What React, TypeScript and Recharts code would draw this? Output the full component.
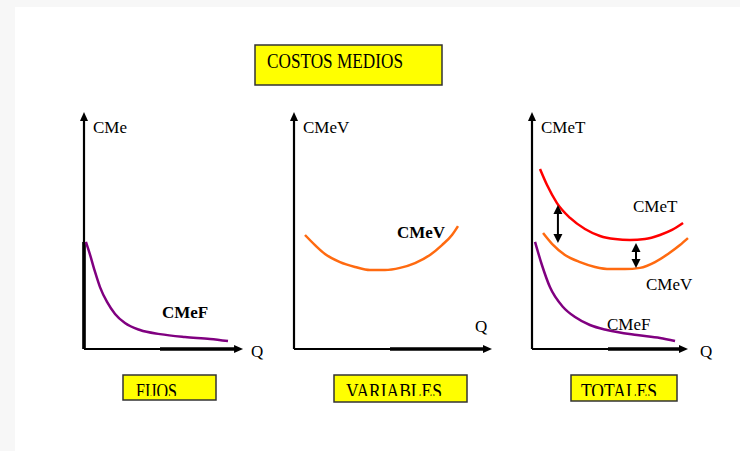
import React from 'react';
import { LineChart, Line, XAxis, YAxis, ReferenceLine } from 'recharts';

const FONT = '"Liberation Serif", "Times New Roman", serif';

const PURPLE = '#800080';
const ORANGE = '#ff6a10';
const RED = '#ff0000';

// Costo medio fijo (panel FIJOS)
const cmefFijos = [
  { q: 0.12, c: 4.46 },
  { q: 0.38, c: 3.92 },
  { q: 0.69, c: 3.21 },
  { q: 1.0, c: 2.58 },
  { q: 1.44, c: 1.96 },
  { q: 1.94, c: 1.46 },
  { q: 2.56, c: 1.08 },
  { q: 3.5, c: 0.79 },
  { q: 4.75, c: 0.62 },
  { q: 6.31, c: 0.5 },
  { q: 7.88, c: 0.42 },
  { q: 9.0, c: 0.33 },
];

// Costo medio variable (panel VARIABLES)
const cmevVariables = [
  { q: 0.55, c: 4.75 },
  { q: 1.05, c: 4.33 },
  { q: 1.55, c: 3.96 },
  { q: 2.3, c: 3.62 },
  { q: 3.05, c: 3.42 },
  { q: 3.8, c: 3.29 },
  { q: 4.55, c: 3.29 },
  { q: 5.3, c: 3.38 },
  { q: 6.05, c: 3.58 },
  { q: 6.8, c: 3.92 },
  { q: 7.4, c: 4.33 },
  { q: 7.9, c: 4.75 },
  { q: 8.2, c: 5.12 },
];

// Panel TOTALES
const cmetTotales = [
  { q: 0.5, c: 7.5 },
  { q: 0.94, c: 6.83 },
  { q: 1.56, c: 6.08 },
  { q: 2.38, c: 5.46 },
  { q: 3.31, c: 5.0 },
  { q: 4.25, c: 4.71 },
  { q: 5.19, c: 4.58 },
  { q: 6.12, c: 4.54 },
  { q: 7.06, c: 4.58 },
  { q: 8.0, c: 4.75 },
  { q: 8.75, c: 4.96 },
  { q: 9.44, c: 5.25 },
];

const cmevTotales = [
  { q: 0.69, c: 4.83 },
  { q: 1.25, c: 4.38 },
  { q: 2.06, c: 3.92 },
  { q: 3.0, c: 3.62 },
  { q: 3.94, c: 3.42 },
  { q: 4.88, c: 3.33 },
  { q: 5.81, c: 3.33 },
  { q: 6.75, c: 3.38 },
  { q: 7.69, c: 3.62 },
  { q: 8.5, c: 3.96 },
  { q: 9.25, c: 4.33 },
  { q: 9.75, c: 4.62 },
];

const cmefTotales = [
  { q: 0.19, c: 4.46 },
  { q: 0.62, c: 3.5 },
  { q: 1.12, c: 2.58 },
  { q: 1.94, c: 1.75 },
  { q: 2.69, c: 1.33 },
  { q: 3.62, c: 1.0 },
  { q: 4.69, c: 0.79 },
  { q: 6.56, c: 0.58 },
  { q: 8.0, c: 0.46 },
  { q: 8.94, c: 0.33 },
];

// flechas dobles entre CMeT y CMeV (= CMeF)
const gapArrows = [
  { q: 1.62, top: 6.0, bottom: 4.42 },
  { q: 6.5, top: 4.42, bottom: 3.38 },
];

const panelNames = ['FIJOS', 'VARIABLES', 'TOTALES'];

const Y_END = 9.88;

const arrowHead = (x: number, y: number, dx: number, dy: number, len = 9, half = 4) => {
  const l = Math.sqrt(dx * dx + dy * dy) || 1;
  const ux = dx / l;
  const uy = dy / l;
  const bx = x - ux * len;
  const by = y - uy * len;
  return `${x},${y} ${bx - uy * half},${by + ux * half} ${bx + uy * half},${by - ux * half}`;
};

const AxisArrow = (props: any) => {
  const { x1, y1, x2, y2 } = props;
  return (
    <g>
      <line x1={x1} y1={y1} x2={x2 - Math.sign(x2 - x1) * 6} y2={y2 - Math.sign(y2 - y1) * 6} stroke="#000" strokeWidth={2.2} />
      <polygon points={arrowHead(x2, y2, x2 - x1, y2 - y1)} fill="#000" />
    </g>
  );
};

const HeavyPart = (props: any) => {
  const { x1, y1, x2, y2 } = props;
  return <line x1={x1} y1={y1} x2={x2} y2={y2} stroke="#000" strokeWidth={3.6} />;
};

const DoubleArrow = (props: any) => {
  const { x1, y1, x2, y2 } = props;
  return (
    <g>
      <line x1={x1} y1={y1 + 5} x2={x2} y2={y2 - 5} stroke="#000" strokeWidth={2} />
      <polygon points={arrowHead(x1, y1, x1 - x2, y1 - y2, 9, 4.5)} fill="#000" />
      <polygon points={arrowHead(x2, y2, x2 - x1, y2 - y1, 9, 4.5)} fill="#000" />
    </g>
  );
};

interface Series {
  data: { q: number; c: number }[];
  color: string;
}

interface PanelProps {
  left: number;
  width: number;
  xEnd: number;
  heavyX: number;
  heavyY?: number;
  series: Series[];
  arrows?: typeof gapArrows;
}

const Panel = ({ left, width, xEnd, heavyX, heavyY, series, arrows = [] }: PanelProps) => (
  <div style={{ position: 'absolute', left, top: 99 }}>
    <LineChart width={width} height={260} margin={{ top: 10, right: 10, bottom: 10, left: 10 }}>
      <XAxis type="number" dataKey="q" domain={[0, 10]} hide />
      <YAxis type="number" domain={[0, 10]} hide />
      <ReferenceLine segment={[{ x: 0, y: 0 }, { x: 0, y: Y_END }]} shape={AxisArrow} />
      <ReferenceLine segment={[{ x: 0, y: 0 }, { x: xEnd, y: 0 }]} shape={AxisArrow} />
      <ReferenceLine segment={[{ x: heavyX, y: 0 }, { x: xEnd - 0.4, y: 0 }]} shape={HeavyPart} />
      {heavyY ? <ReferenceLine segment={[{ x: 0, y: 0 }, { x: 0, y: heavyY }]} shape={HeavyPart} /> : null}
      {series.map((s, i) => (
        <Line
          key={i}
          data={s.data}
          dataKey="c"
          type="monotone"
          stroke={s.color}
          strokeWidth={2.5}
          dot={false}
          activeDot={false}
          isAnimationActive={false}
        />
      ))}
      {arrows.map((a, i) => (
        <ReferenceLine key={`a${i}`} segment={[{ x: a.q, y: a.top }, { x: a.q, y: a.bottom }]} shape={DoubleArrow} />
      ))}
    </LineChart>
  </div>
);

const T = ({ x, y, children, bold = false, size = 17 }: any) => (
  <text x={x} y={y} fontFamily={FONT} fontSize={size} fontWeight={bold ? 'bold' : 'normal'} fill="#000">
    {children}
  </text>
);

const Box = ({ x, y, w, h, label, tx, tw, id }: any) => (
  <g>
    <defs>
      <clipPath id={id}>
        <rect x={x} y={y} width={w} height={21} />
      </clipPath>
    </defs>
    <rect x={x} y={y} width={w} height={h} fill="#ffff00" stroke="#333" strokeWidth={1.5} />
    <text
      x={tx}
      y={397.5}
      fontFamily={FONT}
      fontSize={22}
      textLength={tw}
      lengthAdjust="spacingAndGlyphs"
      clipPath={`url(#${id})`}
      fill="#000"
    >
      {label}
    </text>
  </g>
);

export default function App() {
  return (
    <div style={{ position: 'absolute', left: 0, top: 0, width: 740, height: 451, background: '#fff', overflow: 'hidden' }}>
      <div style={{ position: 'absolute', left: 0, top: 0, width: 15, height: 451, background: '#f7f7f7' }} />
      <div style={{ position: 'absolute', left: 0, top: 0, width: 740, height: 7, background: '#f7f7f7' }} />
      <svg width={740} height={451} style={{ position: 'absolute', left: 0, top: 0 }}>
        <rect x={255} y={45} width={187} height={40} fill="#ffff00" stroke="#333" strokeWidth={1.5} />
        <text x={267} y={68} fontFamily={FONT} fontSize={21} textLength={136} lengthAdjust="spacingAndGlyphs" fill="#000">
          COSTOS MEDIOS
        </text>
        <Box id="c1" x={123} y={375} w={93} h={25} label={panelNames[0]} tx={136} tw={41} />
        <Box id="c2" x={334} y={375} w={133} h={27} label={panelNames[1]} tx={346} tw={96} />
        <Box id="c3" x={571} y={375} w={106} h={26} label={panelNames[2]} tx={581} tw={76} />
      </svg>
      <Panel left={74} width={180} xEnd={9.94} heavyX={4.75} heavyY={4.46} series={[{ data: cmefFijos, color: PURPLE }]} />
      <Panel left={284} width={220} xEnd={9.9} heavyX={4.8} series={[{ data: cmevVariables, color: ORANGE }]} />
      <Panel
        left={522}
        width={180}
        xEnd={9.75}
        heavyX={4.75}
        series={[
          { data: cmetTotales, color: RED },
          { data: cmevTotales, color: ORANGE },
          { data: cmefTotales, color: PURPLE },
        ]}
        arrows={gapArrows}
      />
      <svg width={740} height={451} style={{ position: 'absolute', left: 0, top: 0, pointerEvents: 'none' }}>
        <T x={93} y={133}>CMe</T>
        <T x={251} y={357}>Q</T>
        <T x={162} y={318} bold>CMeF</T>
        <T x={303} y={133}>CMeV</T>
        <T x={475} y={332}>Q</T>
        <T x={397} y={238} bold>CMeV</T>
        <T x={541} y={133}>CMeT</T>
        <T x={700} y={357}>Q</T>
        <T x={633} y={212}>CMeT</T>
        <T x={646} y={290}>CMeV</T>
        <T x={607} y={330}>CMeF</T>
      </svg>
    </div>
  );
}
